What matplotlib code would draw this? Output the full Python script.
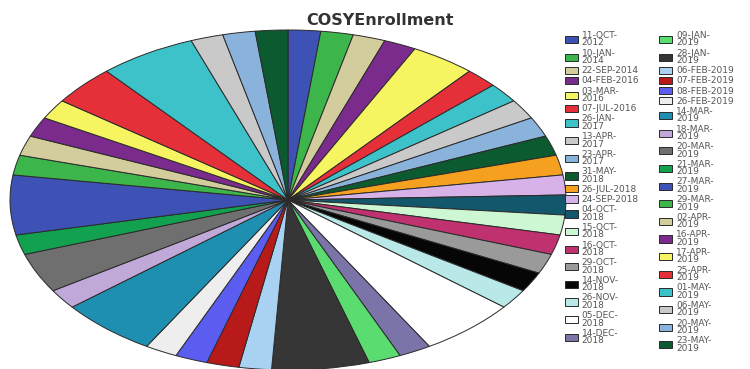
import matplotlib
matplotlib.use('Agg')
from matplotlib import pyplot as plt

# enrollment dates and counts (clockwise from 12 o'clock)
dates = ['11-OCT-2012', '10-JAN-2014', '22-SEP-2014', '04-FEB-2016', '03-MAR-2016',
         '07-JUL-2016', '26-JAN-2017', '13-APR-2017', '23-APR-2017', '31-MAY-2018',
         '26-JUL-2018', '24-SEP-2018', '04-OCT-2018', '15-OCT-2018', '16-OCT-2018',
         '29-OCT-2018', '14-NOV-2018', '26-NOV-2018', '05-DEC-2018', '14-DEC-2018',
         '09-JAN-2019', '28-JAN-2019', '06-FEB-2019', '07-FEB-2019', '08-FEB-2019',
         '26-FEB-2019', '14-MAR-2019', '18-MAR-2019', '20-MAR-2019', '21-MAR-2019',
         '27-MAR-2019', '29-MAR-2019', '02-APR-2019', '16-APR-2019', '17-APR-2019',
         '25-APR-2019', '01-MAY-2019', '06-MAY-2019', '20-MAY-2019', '23-MAY-2019']
counts = [1, 1, 1, 1, 2, 1, 1, 1, 1, 1,
          1, 1, 1, 1, 1, 1, 1, 1, 3, 1,
          1, 3, 1, 1, 1, 1, 3, 1, 2, 1,
          3, 1, 1, 1, 1, 2, 3, 1, 1, 1]
# legend labels: short ones stay on one line, others wrap after the month
one_line = ['22-SEP-2014', '04-FEB-2016', '07-JUL-2016', '26-JUL-2018', '24-SEP-2018',
            '06-FEB-2019', '07-FEB-2019', '08-FEB-2019', '26-FEB-2019']

palette = ['#3d52b4', '#3cb64a', '#d3cc9c', '#7a2b8c', '#f7f461', '#e5303a',
           '#3ec2c9', '#c9c9c9', '#8ab3dc', '#0c5a30', '#f5a11f', '#d7b2e9',
           '#12576b', '#cdf6d3', '#c0316f', '#9a9a9a', '#060606', '#b9e8e8',
           '#ffffff', '#7a74a8', '#5bdc70', '#363636', '#a9d1f1', '#b81a1a',
           '#5b5cf0', '#eeeeee', '#1f8fb1', '#c0a9d9', '#6f6f6f', '#12a14f']
colors = [palette[i % len(palette)] for i in range(len(counts))]

labels = [d if d in one_line else d[:7] + '\n' + d[7:] for d in dates]

fig = plt.figure(figsize=(7.5, 3.69), dpi=100)
ax = fig.add_axes([0, 0, 1, 1])
wedges, _ = ax.pie(counts, colors=colors, startangle=90, counterclock=False,
                   wedgeprops=dict(edgecolor='#2a2a2a', linewidth=0.7))
# stretched ellipse, like the original
ax.set_aspect('auto')
ax.set_xlim(-288 / 278, 462 / 278)
ax.set_ylim(-169 / 170, 200 / 170)

fig.text(0.507, 0.945, 'COSYEnrollment', ha='center', va='center',
         fontsize=11.5, fontweight='bold', color='#333333')

leg = fig.legend(wedges, labels, ncol=2, loc='upper left',
                 bbox_to_anchor=(565 / 750, 1 - 31 / 369), frameon=False,
                 fontsize=6.5, borderpad=0, borderaxespad=0,
                 handlelength=1.45, handleheight=0.85, handletextpad=0.4,
                 labelspacing=0.13, columnspacing=2.2)
for t in leg.get_texts():
    t.set_linespacing(0.78)
    t.set_color('#555555')

fig.savefig('out.png', dpi=100)
